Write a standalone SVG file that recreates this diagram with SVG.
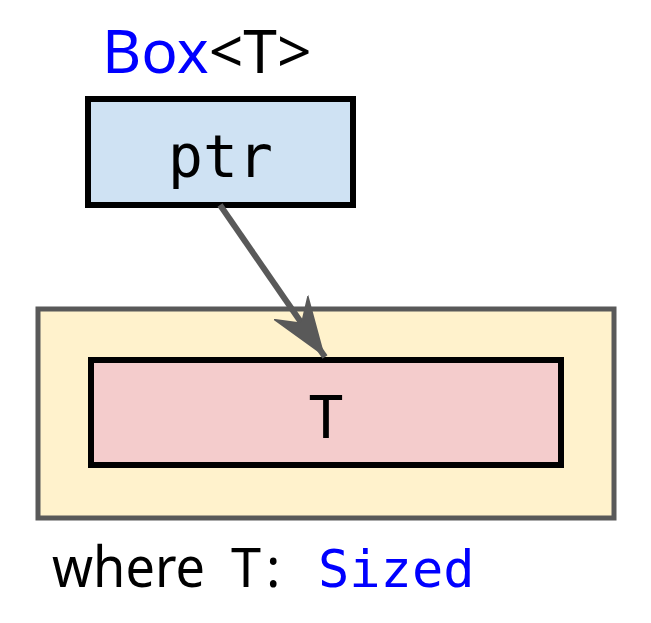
<svg xmlns="http://www.w3.org/2000/svg" width="651" height="623" viewBox="0 0 651 623">
<style>
.sans{font-family:"Noto Sans","Open Sans",sans-serif}
.mono{font-family:"DejaVu Sans Mono","Liberation Mono",monospace}
.kw{fill:#0000ff}
</style>
<defs>
<marker id="arr" markerUnits="userSpaceOnUse" markerWidth="70" markerHeight="70" viewBox="-60 -35 70 70" refX="0" refY="0" orient="auto">
<path d="M0,0 L-62,-22 L-42,0 L-62,22 Z" fill="#595959"/>
</marker>
</defs>
<rect width="651" height="623" fill="#ffffff"/>
<g id="title">
<text x="102" y="73" class="sans" font-size="60.5"><tspan class="kw">Box</tspan>&lt;T&gt;</text>
</g>
<g id="ptr">
<rect x="88" y="99" width="265" height="106" fill="#cfe2f3" stroke="#000" stroke-width="6"/>
<text x="220.5" y="177" class="mono" font-size="58" text-anchor="middle">ptr</text>
</g>
<g id="sized-region">
<rect x="38" y="309" width="576" height="209" fill="#fff2cc" stroke="#595959" stroke-width="5"/>
</g>
<g id="T">
<rect x="91" y="360" width="470" height="105" fill="#f4cccc" stroke="#000" stroke-width="6"/>
<text x="326" y="438" class="mono" font-size="58" text-anchor="middle">T</text>
</g>
<g id="connectors">
<line x1="220" y1="205" x2="325" y2="357" stroke="#595959" stroke-width="6" marker-end="url(#arr)"/>
</g>
<g id="caption">
<text x="52" y="587" class="sans" font-size="56" textLength="153" lengthAdjust="spacingAndGlyphs">where</text>
<text x="231" y="587" class="sans" font-size="54">T</text>
<text x="266" y="587" class="sans" font-size="54">:</text>
<text x="318" y="587" class="mono kw" font-size="52">Sized</text>
</g>
</svg>
